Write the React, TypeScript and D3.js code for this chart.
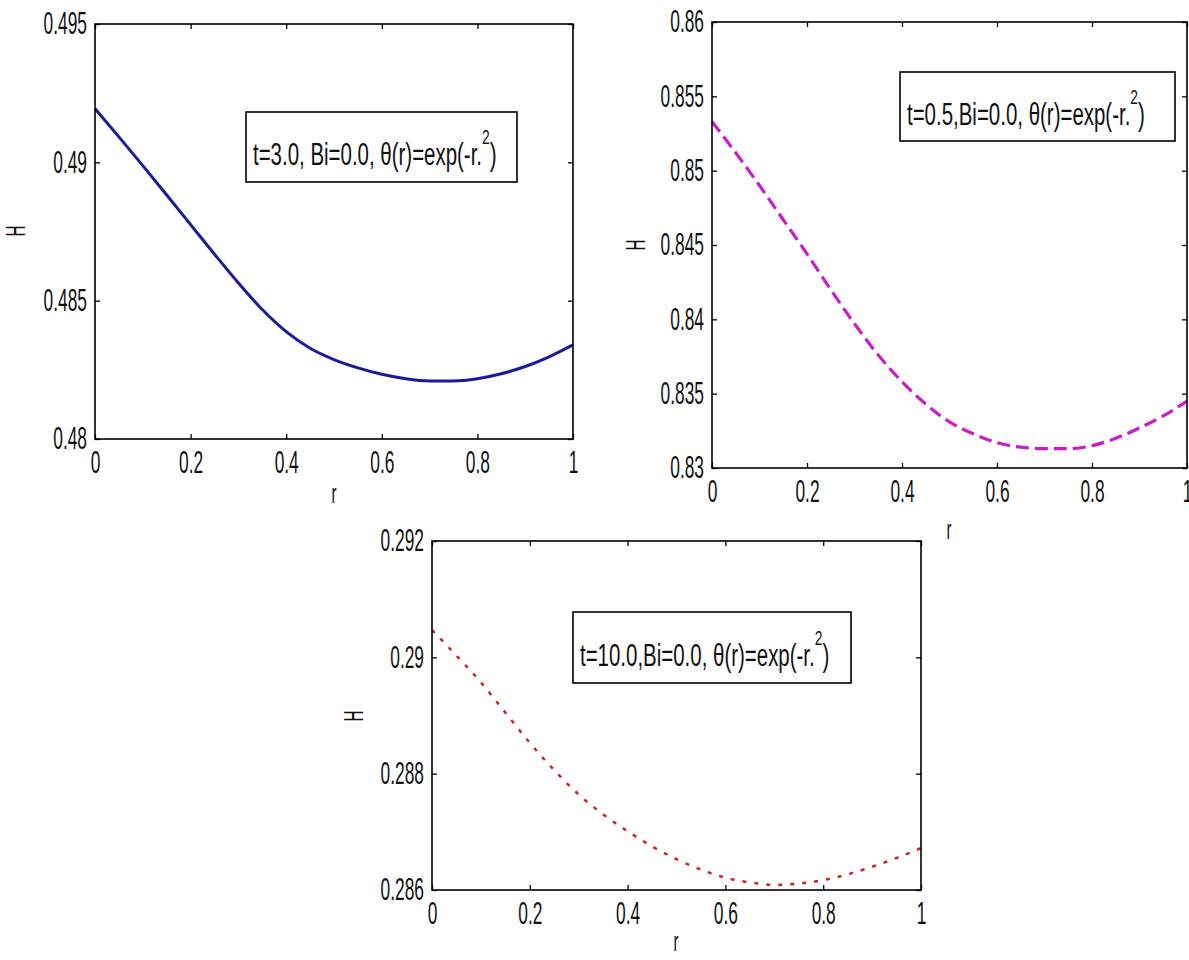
import React, { useEffect, useRef } from 'react';
import * as d3 from 'd3';

// ---- data ----
const rValues = [0, 0.05, 0.1, 0.15, 0.2, 0.25, 0.3, 0.35, 0.4, 0.45, 0.5, 0.55, 0.6, 0.65, 0.7, 0.75, 0.8, 0.85, 0.9, 0.95, 1.0];
const hT3 = [0.49194, 0.49092, 0.48988, 0.48882, 0.48775, 0.48668, 0.48564, 0.48468, 0.48388, 0.48328, 0.48287, 0.48257, 0.48234, 0.48218, 0.4821, 0.4821, 0.48218, 0.48236, 0.48262, 0.48297, 0.4834];
const hT05 = [0.8533, 0.8512, 0.849, 0.8467, 0.8444, 0.842, 0.8397, 0.8376, 0.8358, 0.8343, 0.8331, 0.8323, 0.8317, 0.8314, 0.8313, 0.8313, 0.8315, 0.832, 0.8327, 0.8335, 0.8345];
const hT10 = [0.29047, 0.29003, 0.28957, 0.28905, 0.28853, 0.28806, 0.28764, 0.2873, 0.28701, 0.28675, 0.28653, 0.28635, 0.28621, 0.28613, 0.28609, 0.28611, 0.28617, 0.28627, 0.2864, 0.28655, 0.28672];

const xTicks = [0, 0.2, 0.4, 0.6, 0.8, 1];
const xTickLabels = ['0', '0.2', '0.4', '0.6', '0.8', '1'];

const yTicksT3 = [0.48, 0.485, 0.49, 0.495];
const yTickLabelsT3 = ['0.48', '0.485', '0.49', '0.495'];
const yTicksT05 = [0.83, 0.835, 0.84, 0.845, 0.85, 0.855, 0.86];
const yTickLabelsT05 = ['0.83', '0.835', '0.84', '0.845', '0.85', '0.855', '0.86'];
const yTicksT10 = [0.286, 0.288, 0.29, 0.292];
const yTickLabelsT10 = ['0.286', '0.288', '0.29', '0.292'];

const legendT3 = ['t=3.0, Bi=0.0, θ(r)=exp(-r.', '2', ')'];
const legendT05 = ['t=0.5,Bi=0.0, θ(r)=exp(-r.', '2', ')'];
const legendT10 = ['t=10.0,Bi=0.0, θ(r)=exp(-r.', '2', ')'];

const xLabel = 'r';
const yLabel = 'H';

// ---- layout ----
const FONT = '"Liberation Sans", Arial, sans-serif';
const FS = 31;
const SX = 0.56;
const LSX = 0.66;

const panels = [
  {
    box: { l: 95, t: 24, r: 573, b: 439 },
    h: hT3, yTicks: yTicksT3, yLabels: yTickLabelsT3,
    style: { color: '#1a1a9c', width: 3, dash: null as string | null },
    legend: legendT3, legBox: { l: 246, t: 112, r: 517, b: 182 },
    hPos: [16, 231], rPos: [334, 494],
  },
  {
    box: { l: 712, t: 22, r: 1187, b: 468 },
    h: hT05, yTicks: yTicksT05, yLabels: yTickLabelsT05,
    style: { color: '#c81ec8', width: 3.2, dash: '13,6' },
    legend: legendT05, legBox: { l: 900, t: 72, r: 1175, b: 141 },
    hPos: [636, 245], rPos: [949, 530],
  },
  {
    box: { l: 432, t: 541, r: 921, b: 890 },
    h: hT10, yTicks: yTicksT10, yLabels: yTickLabelsT10,
    style: { color: '#c42828', width: 2.5, dash: '4,8' },
    legend: legendT10, legBox: { l: 573, t: 612, r: 851, b: 683 },
    hPos: [354, 716], rPos: [676, 942],
  },
];

export default function App() {
  const ref = useRef<SVGSVGElement | null>(null);

  useEffect(() => {
    const svg = d3.select(ref.current);
    svg.selectAll('*').remove();

    panels.forEach((p) => {
      const { l, t, r, b } = p.box;
      const x = d3.scaleLinear().domain([0, 1]).range([l, r]);
      const y = d3.scaleLinear().domain([p.yTicks[0], p.yTicks[p.yTicks.length - 1]]).range([b, t]);
      const g = svg.append('g');

      // curve
      const line = d3.line<number>()
        .x((_, i) => x(rValues[i]))
        .y((d) => y(d))
        .curve(d3.curveMonotoneX);
      const path = g.append('path')
        .attr('d', line(p.h) as string)
        .attr('fill', 'none')
        .attr('stroke', p.style.color)
        .attr('stroke-width', p.style.width)
        .attr('stroke-linejoin', 'round');
      if (p.style.dash) path.attr('stroke-dasharray', p.style.dash);

      // axes
      const styleAxis = (sel: any) => {
        sel.select('.domain').remove();
        sel.selectAll('line').attr('stroke', '#000').attr('stroke-width', 1.3);
        sel.selectAll('text')
          .attr('fill', '#111')
          .attr('font-size', FS)
          .attr('font-family', FONT);
      };

      const bottom = g.append('g').attr('transform', `translate(0,${b})`)
        .call(d3.axisBottom(x).tickValues(xTicks).tickFormat((_, i) => xTickLabels[i])
          .tickSizeInner(-5).tickSizeOuter(0).tickPadding(12));
      styleAxis(bottom);
      bottom.selectAll('text').attr('transform', `scale(${SX},1)`);

      const top = g.append('g').attr('transform', `translate(0,${t})`)
        .call(d3.axisTop(x).tickValues(xTicks).tickFormat(() => '')
          .tickSizeInner(-5).tickSizeOuter(0));
      styleAxis(top);

      const left = g.append('g').attr('transform', `translate(${l},0)`)
        .call(d3.axisLeft(y).tickValues(p.yTicks).tickFormat((_, i) => p.yLabels[i])
          .tickSizeInner(-5).tickSizeOuter(0).tickPadding(8));
      styleAxis(left);
      left.selectAll('text').attr('x', -8 / SX).attr('transform', `scale(${SX},1)`);

      const right = g.append('g').attr('transform', `translate(${r},0)`)
        .call(d3.axisRight(y).tickValues(p.yTicks).tickFormat(() => '')
          .tickSizeInner(-5).tickSizeOuter(0));
      styleAxis(right);

      // frame
      g.append('rect')
        .attr('x', l).attr('y', t).attr('width', r - l).attr('height', b - t)
        .attr('fill', 'none').attr('stroke', '#000').attr('stroke-width', 1.6);

      // legend box
      const lb = p.legBox;
      g.append('rect')
        .attr('x', lb.l).attr('y', lb.t).attr('width', lb.r - lb.l).attr('height', lb.b - lb.t)
        .attr('fill', '#fff').attr('stroke', '#000').attr('stroke-width', 1.6);
      const baseY = (lb.t + lb.b) / 2 + 18;
      const lt = g.append('g').attr('transform', `translate(${lb.l + 7},${baseY}) scale(${LSX},1)`)
        .append('text')
        .attr('font-size', FS).attr('font-family', FONT).attr('fill', '#111');
      lt.append('tspan').text(p.legend[0]);
      lt.append('tspan').attr('font-size', 21).attr('dy', -21).text(p.legend[1]);
      lt.append('tspan').attr('dy', 21).text(p.legend[2]);

      // axis labels
      g.append('g').attr('transform', `translate(${p.rPos[0]},${p.rPos[1]}) scale(${SX},1)`)
        .append('text').attr('text-anchor', 'middle').attr('dy', '0.35em')
        .attr('font-size', FS - 4).attr('font-family', FONT).attr('fill', '#111').text(xLabel);
      g.append('g').attr('transform', `translate(${p.hPos[0]},${p.hPos[1]}) rotate(-90) scale(${SX},1)`)
        .append('text').attr('text-anchor', 'middle').attr('dy', '0.35em')
        .attr('font-size', FS - 4).attr('font-family', FONT).attr('fill', '#111').text(yLabel);
    });
  }, []);

  return (
    <svg
      ref={ref}
      width={1189}
      height={960}
      style={{ position: 'absolute', left: 0, top: 0, background: '#fff' }}
    />
  );
}
